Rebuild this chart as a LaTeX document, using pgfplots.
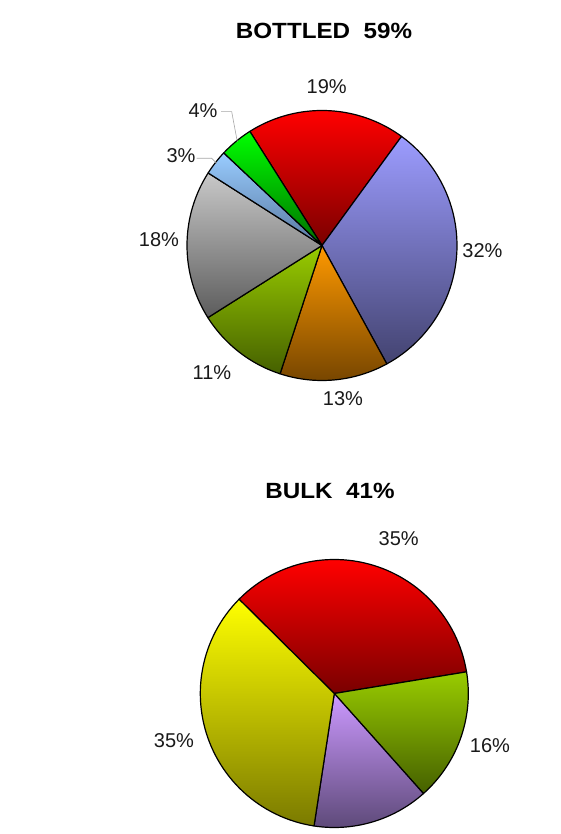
\documentclass[border=0pt]{standalone}
\usepackage{graphicx}
\usepackage{pgfplots}
\pgfplotsset{compat=1.18}
\usepackage{fontspec}
\setmainfont{Liberation Sans}

\definecolor{redT}{HTML}{FF0000}\definecolor{redB}{HTML}{7A0000}
\definecolor{bluT}{HTML}{9C9CFF}\definecolor{bluB}{HTML}{434370}
\definecolor{orgT}{HTML}{FF9900}\definecolor{orgB}{HTML}{774600}
\definecolor{grnT}{HTML}{99CC00}\definecolor{grnB}{HTML}{456000}
\definecolor{gryT}{HTML}{C8C8C8}\definecolor{gryB}{HTML}{5C5C5C}
\definecolor{lbuT}{HTML}{99CCFF}\definecolor{lbuB}{HTML}{5878A0}
\definecolor{lgrT}{HTML}{00FF00}\definecolor{lgrB}{HTML}{007000}
\definecolor{purT}{HTML}{CC99FF}\definecolor{purB}{HTML}{5E4A7A}
\definecolor{yelT}{HTML}{FFFF00}\definecolor{yelB}{HTML}{7A7A00}

\tikzset{lbl/.style={inner sep=0pt, font=\fontsize{20}{24}\selectfont, anchor=base, text=black!90},
         ttl/.style={inner sep=0pt, font=\fontsize{22}{26}\selectfont\bfseries, anchor=base}}

% cx, cy, r, start angle, cumulative %, slice %, top colour, bottom colour
\newcommand{\pieslice}[8]{%
  \addplot[draw=black, line width=1.2pt, line join=round, top color=#7, bottom color=#8,
    domain={#4-3.6*(#5+#6)}:{#4-3.6*#5}, samples=60, variable=\t]
    ({#1+#3*cos(\t)},{#2+#3*sin(\t)}) -- (axis cs:#1,#2) -- cycle;
}

\begin{document}
\begin{tikzpicture}
\begin{axis}[
  width=561pt, height=834pt, scale only axis,
  xmin=0, xmax=561, ymin=0, ymax=834,
  hide axis, clip=false,
]
\path (axis cs:0,0) rectangle (axis cs:561,834);
% BOTTLED 59%
\pieslice{322}{588.5}{135}{122.3}{0}{19}{redT}{redB}
\pieslice{322}{588.5}{135}{122.3}{19}{32}{bluT}{bluB}
\pieslice{322}{588.5}{135}{122.3}{51}{13}{orgT}{orgB}
\pieslice{322}{588.5}{135}{122.3}{64}{11}{grnT}{grnB}
\pieslice{322}{588.5}{135}{122.3}{75}{18}{gryT}{gryB}
\pieslice{322}{588.5}{135}{122.3}{93}{3}{lbuT}{lbuB}
\pieslice{322}{588.5}{135}{122.3}{96}{4}{lgrT}{lgrB}
% BULK 41%
\pieslice{334.3}{140.5}{134}{135.3}{0}{35}{redT}{redB}
\pieslice{334.3}{140.5}{134}{135.3}{35}{16}{grnT}{grnB}
\pieslice{334.3}{140.5}{134}{135.3}{51}{14}{purT}{purB}
\pieslice{334.3}{140.5}{134}{135.3}{65}{35}{yelT}{yelB}

% leader lines
\draw[gray!70, line width=0.6pt] (axis cs:221,722.3) -- (axis cs:231.7,722.3) -- (axis cs:237.3,692.3);
\draw[gray!70, line width=0.6pt] (axis cs:196.7,675.7) -- (axis cs:211.7,675.7) -- (axis cs:216.7,670.7);

% titles
\node[ttl] at (axis cs:324,795) {\scalebox{1.1}[1]{BOTTLED\ \ 59\%}};
\node[ttl] at (axis cs:330,335) {\scalebox{1.1}[1]{BULK\ \ 41\%}};

% labels
\node[lbl] at (axis cs:326.7,740.8) {19\%};
\node[lbl] at (axis cs:482.5,576.8) {32\%};
\node[lbl] at (axis cs:343,428.8) {13\%};
\node[lbl] at (axis cs:212,454.8) {11\%};
\node[lbl] at (axis cs:159,587.3) {18\%};
\node[lbl] at (axis cs:203,716.8) {4\%};
\node[lbl] at (axis cs:181,671.8) {3\%};
\node[lbl] at (axis cs:398.7,288.8) {35\%};
\node[lbl] at (axis cs:490,81.3) {16\%};
\node[lbl] at (axis cs:174,86.8) {35\%};
\end{axis}
\path (current axis.south west) rectangle (current axis.north east);
\end{tikzpicture}
\end{document}
